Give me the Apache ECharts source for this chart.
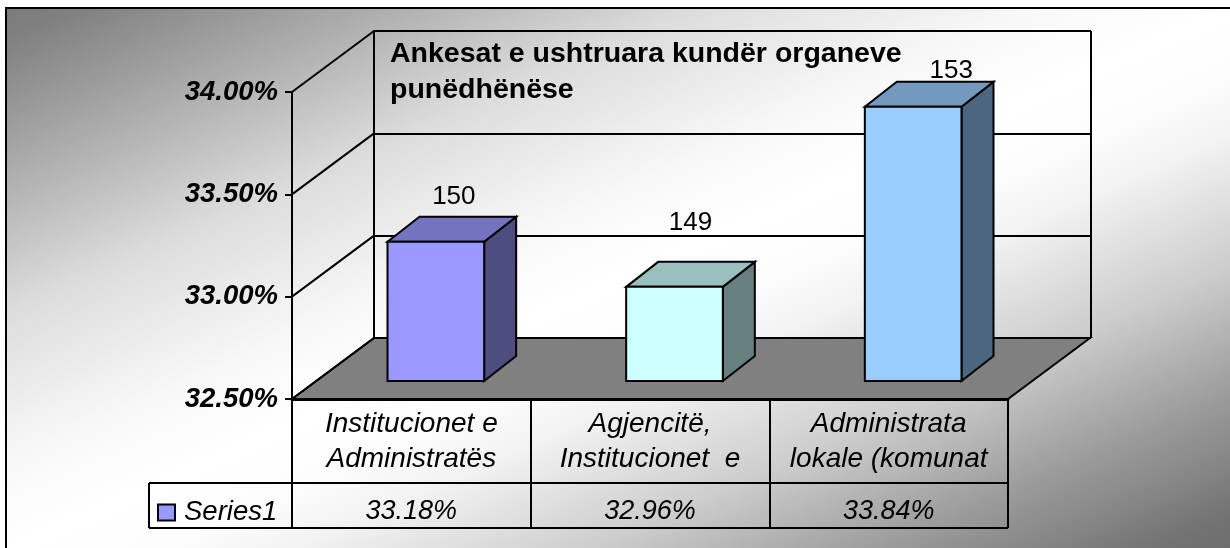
<!DOCTYPE html>
<html>
<head>
<meta charset="utf-8">
<style>
  html, body { margin: 0; padding: 0; background: #fff; }
  #main { width: 1230px; height: 548px; }
</style>
<script src="https://cdn.jsdelivr.net/npm/echarts@6/dist/echarts.min.js"></script>
</head>
<body>
<div id="main"></div>
<script>
const categorias = ['Institucionet e\nAdministratës', 'Agjencitë,\nInstitucionet  e', 'Administrata\nlokale (komunat'];
const porcentajes = [33.18, 32.96, 33.84];
const ankesat = [150, 149, 153];
const yTicks = [32.5, 33, 33.5, 34];
const titulo = 'Ankesat e ushtruara kundër organeve\npunëdhënëse';
const nombreSerie = 'Series1';

const FONT = '"Liberation Sans", Arial, sans-serif';
const coloresFrente = ['#9999ff', '#ccffff', '#99ccff'];
const coloresArriba = ['#7373bf', '#99bfbf', '#7399bf'];
const coloresLado = ['#4d4d80', '#668080', '#4d6680'];

// profundidad del "3D"
const WALL = [82, -61];
const BAR_SHIFT = [24.5, -18];
const BAR_DEPTH = [32, -25];
const LABEL_SHIFT = [[2, -20], [0, -39], [22, -11]];
const LINE = { stroke: '#000', lineWidth: 2 };

const chart = echarts.init(document.getElementById('main'));

function poly(points, fill) {
  return { type: 'polygon', shape: { points }, style: { fill, stroke: '#000', lineWidth: 2 } };
}

function dibujarMarco(params, api) {
  const cs = params.coordSys;
  const y = api.coord([0, api.value(1)])[1];
  const children = [];
  if (params.dataIndex === 0) {
    children.push(poly([
      [cs.x, y],
      [cs.x + WALL[0], y + WALL[1]],
      [cs.x + cs.width + WALL[0], y + WALL[1]],
      [cs.x + cs.width, y]
    ], '#808080'));
  }
  children.push({
    type: 'line',
    shape: { x1: cs.x, y1: y, x2: cs.x + WALL[0], y2: y + WALL[1] },
    style: LINE
  });
  return { type: 'group', children };
}

function dibujarBarra(params, api) {
  const i = params.dataIndex;
  const cs = params.coordSys;
  const base = api.coord([i, yTicks[0]]);
  const tope = api.coord([i, api.value(1)]);
  const ancho = api.size([1, 0])[0] * 0.405;
  const x0 = base[0] - ancho / 2 + BAR_SHIFT[0];
  const x1 = x0 + ancho;
  const y0 = base[1] + BAR_SHIFT[1];
  const y1 = tope[1] + BAR_SHIFT[1];
  const dx = BAR_DEPTH[0];
  const dy = BAR_DEPTH[1];
  return {
    type: 'group',
    children: [
      poly([[x1, y0], [x1 + dx, y0 + dy], [x1 + dx, y1 + dy], [x1, y1]], coloresLado[i]),
      poly([[x0, y1], [x0 + dx, y1 + dy], [x1 + dx, y1 + dy], [x1, y1]], coloresArriba[i]),
      poly([[x0, y0], [x0, y1], [x1, y1], [x1, y0]], coloresFrente[i]),
      {
        type: 'text',
        style: {
          text: String(api.value(2)),
          x: x0 + (ancho + dx) / 2 + LABEL_SHIFT[i][0],
          y: y1 + dy + LABEL_SHIFT[i][1],
          align: 'center',
          verticalAlign: 'middle',
          font: '26px ' + FONT,
          fill: '#000'
        }
      },
      {
        type: 'text',
        style: {
          text: api.value(1).toFixed(2) + '%',
          x: base[0],
          y: cs.y + cs.height + 112,
          align: 'center',
          verticalAlign: 'middle',
          font: 'italic 27px ' + FONT,
          fill: '#000'
        }
      }
    ]
  };
}

function lineaTabla(x1, y1, x2, y2) {
  return { type: 'line', shape: { x1, y1, x2, y2 }, style: LINE, z: 1 };
}

const option = {
  animation: false,
  backgroundColor: '#fff',
  title: {
    text: titulo,
    left: 390,
    top: 36,
    padding: 0,
    textStyle: { fontFamily: FONT, fontSize: 28.5, fontWeight: 'bold', color: '#000', lineHeight: 36 }
  },
  legend: {
    data: [{ name: nombreSerie, icon: 'rect' }],
    left: 157,
    top: 499,
    padding: 0,
    itemWidth: 17,
    itemHeight: 16,
    selectedMode: false,
    itemStyle: { borderColor: '#000', borderWidth: 2 },
    textStyle: { fontFamily: FONT, fontSize: 27.5, fontStyle: 'italic', color: '#000', padding: [0, 0, 0, 4] }
  },
  grid: [
    { left: 292, right: 222, top: 92, bottom: 149 },
    { left: 374, right: 139, top: 31, bottom: 210 }
  ],
  xAxis: [
    {
      type: 'category',
      data: categorias,
      axisLine: { lineStyle: { color: '#000', width: 3 } },
      axisTick: { show: false },
      axisLabel: {
        interval: 0,
        margin: 8,
        fontFamily: FONT,
        fontSize: 28,
        fontStyle: 'italic',
        color: '#000',
        lineHeight: 35
      }
    },
    { type: 'category', gridIndex: 1, data: categorias, show: false }
  ],
  yAxis: [
    {
      type: 'value',
      min: 32.5,
      max: 34,
      interval: 0.5,
      axisLine: { show: true, lineStyle: { color: '#000', width: 2 } },
      axisTick: { show: true, length: 7, lineStyle: { color: '#000', width: 2 } },
      splitLine: { show: false },
      axisLabel: {
        margin: 14,
        padding: [4, 0, 0, 0],
        fontFamily: FONT,
        fontSize: 27.5,
        fontWeight: 'bold',
        fontStyle: 'italic',
        color: '#000',
        formatter: v => v.toFixed(2) + '%'
      }
    },
    {
      type: 'value',
      gridIndex: 1,
      min: 32.5,
      max: 34,
      interval: 0.5,
      axisLine: { show: true, lineStyle: { color: '#000', width: 2 } },
      axisTick: { show: false },
      axisLabel: { show: false },
      splitLine: { show: true, lineStyle: { color: '#000', width: 2 } }
    }
  ],
  graphic: [
    {
      type: 'rect',
      z: -10,
      shape: { x: 6, y: 8, width: 1240, height: 560 },
      style: {
        fill: new echarts.graphic.LinearGradient(418, -174, 818, 730, [
          { offset: 0, color: '#7a7a7a' },
          { offset: 0.03, color: '#808080' },
          { offset: 0.28, color: '#dcdcdc' },
          { offset: 0.42, color: '#f8f8f8' },
          { offset: 0.5, color: '#ffffff' },
          { offset: 0.56, color: '#fdfdfd' },
          { offset: 0.62, color: '#f2f2f2' },
          { offset: 0.74, color: '#cdcdcd' },
          { offset: 0.86, color: '#9b9b9b' },
          { offset: 0.97, color: '#737373' },
          { offset: 1, color: '#6e6e6e' }
        ], true),
        stroke: '#000',
        lineWidth: 2
      }
    },
    lineaTabla(1091, 31, 1091, 338),
    lineaTabla(292, 399, 292, 528),
    lineaTabla(531, 399, 531, 528),
    lineaTabla(770, 399, 770, 528),
    lineaTabla(1008, 399, 1008, 528),
    lineaTabla(149, 483, 1008, 483),
    lineaTabla(149, 528, 1008, 528),
    lineaTabla(149, 483, 149, 528)
  ],
  series: [
    {
      type: 'custom',
      name: 'marco',
      silent: true,
      z: 1,
      renderItem: dibujarMarco,
      data: yTicks.map(t => [0, t])
    },
    {
      type: 'custom',
      name: nombreSerie,
      z: 3,
      itemStyle: { color: coloresFrente[0] },
      renderItem: dibujarBarra,
      data: porcentajes.map((v, i) => [i, v, ankesat[i]])
    }
  ]
};

chart.setOption(option);

window.addEventListener('resize', () => chart.resize());
</script>
</body>
</html>
